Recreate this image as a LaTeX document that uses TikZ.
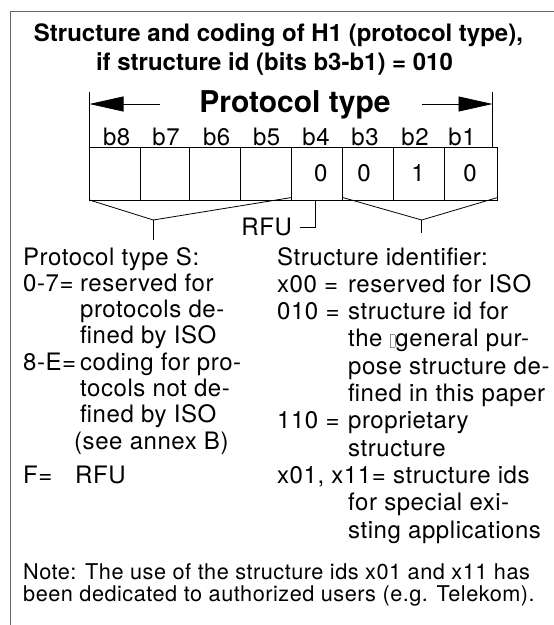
\documentclass[tikz,border=0pt]{standalone}
\usepackage{fontspec}
\setmainfont{TeX Gyre Heros}[LetterSpace=2.3]
\newfontfamily\titlefont{TeX Gyre Heros}
\usetikzlibrary{arrows.meta}
\newcommand{\missingglyph}{{\color{black!45}\setlength{\fboxsep}{0pt}\setlength{\fboxrule}{0.6pt}\fbox{\rule{0pt}{12pt}\rule{4.5pt}{0pt}}}}
\begin{document}
\begin{tikzpicture}[x=1pt,y=-1pt,
  body/.style={inner sep=0pt, font=\fontsize{24}{26}\selectfont},
  txt/.style={body, anchor=base west},
  ctxt/.style={body, anchor=base},
  notetxt/.style={inner sep=0pt, anchor=base west, font=\fontsize{21.7}{23}\selectfont},
  ttl/.style={inner sep=0pt, anchor=base, font=\titlefont\bfseries\fontsize{24}{26}\selectfont},
  big/.style={inner sep=0pt, anchor=base, font=\titlefont\bfseries\fontsize{30}{32}\selectfont},
  ln/.style={line width=0.8pt, black},
  frameline/.style={line width=1pt, black!60},
  arr/.style={ln, -{Triangle[length=34pt,width=15pt]}}]
\useasboundingbox (0,0) rectangle (554,625);

% frame
\coordinate (ftl) at (10,11);
\coordinate (ftr) at (554,11);
\coordinate (fbl) at (10,625);
\draw[frameline] (fbl) -- (ftl) -- (ftr);

% title
\node[ttl] (t1) at (278.5,41.5) {Structure and coding of H1 (protocol type),};
\node[ttl] (t2) at (274.5,70) {if structure id (bits b3-b1) = 010};

% protocol type with arrows
\node[big] (pt) at (295,112) {Protocol type};
\coordinate (lt) at (89.5,92);
\coordinate (lb) at (89.5,147);
\coordinate (rt) at (492.5,92);
\coordinate (rb) at (492.5,147);
\draw[ln] (lt) -- (lb);
\draw[ln] (rt) -- (rb);
\coordinate (la0) at (160,104);
\coordinate (la1) at (89.5,104);
\coordinate (ra0) at (422,104);
\coordinate (ra1) at (492.5,104);
\draw[arr] (la0) -- (la1);
\draw[arr] (ra0) -- (ra1);

% bit labels
\node[ctxt] (b8) at (116.7,145) {b8};
\node[ctxt] (b7) at (166,145) {b7};
\node[ctxt] (b6) at (216.7,145) {b6};
\node[ctxt] (b5) at (266.7,145) {b5};
\node[ctxt] (b4) at (316,145) {b4};
\node[ctxt] (b3) at (365,145) {b3};
\node[ctxt] (b2) at (415,145) {b2};
\node[ctxt] (b1) at (462,145) {b1};

% register box
\coordinate (boxtl) at (89.5,147);
\coordinate (boxbr) at (497.7,200);
\draw[ln] (boxtl) rectangle (boxbr);
\foreach \x [count=\i] in {140.7,189,240,291.7,342.7,393.3,444}{
  \coordinate (dt\i) at (\x,147);
  \coordinate (db\i) at (\x,200);
  \draw[ln] (dt\i) -- (db\i);
}
\node[ctxt] (v4) at (320.7,181) {0};
\node[ctxt] (v3) at (364,181) {0};
\node[ctxt] (v2) at (418,181) {1};
\node[ctxt] (v1) at (470,181) {0};

% left brace
\coordinate (lb0) at (89.5,200);
\coordinate (lbm) at (153.3,220);
\coordinate (lb1) at (291.7,197.5);
\coordinate (lbs) at (153.3,240);
\draw[ln] (lb0) -- (lbm) -- (lb1);
\draw[ln] (lbm) -- (lbs);

% right brace
\coordinate (rb0) at (342.7,197.5);
\coordinate (rbm) at (421.7,220);
\coordinate (rb1) at (497.7,197.5);
\coordinate (rbs) at (421.7,233);
\draw[ln] (rb0) -- (rbm) -- (rb1);
\draw[ln] (rbm) -- (rbs);

% RFU
\node[ctxt] (rfu) at (266.7,235) {RFU};
\coordinate (rf0) at (315,200);
\coordinate (rf1) at (315,227);
\coordinate (rf2) at (300,227);
\draw[ln] (rf0) -- (rf1) -- (rf2);

% left column (row pitch 26.3)
\node[txt] (l1) at (23,265) {Protocol type S:};
\node[txt] (l2a) at (23,291.3) {0-7=};
\node[txt] (l2b) at (80,291.3) {reserved for};
\node[txt] (l3) at (80,317.6) {protocols de-};
\node[txt] (l4) at (80,343.9) {fined by ISO};
\node[txt] (l5a) at (23,370.2) {8-E=};
\node[txt] (l5b) at (80,370.2) {coding for pro-};
\node[txt] (l6) at (80,396.5) {tocols not de-};
\node[txt] (l7) at (80,422.8) {fined by ISO};
\node[txt] (l8) at (74,449.1) {(see annex B)};
\node[txt] (l9a) at (23,483.4) {F=};
\node[txt] (l9b) at (75,483.4) {RFU};

% right column (row pitch 27.3)
\node[txt] (r1) at (277,265) {Structure identifier:};
\node[txt] (r2a) at (277,292.3) {x00 =};
\node[txt] (r2b) at (348,292.3) {reserved for ISO};
\node[txt] (r3a) at (277,319.6) {010 =};
\node[txt] (r3b) at (348,319.6) {structure id for};
\node[txt] (r4) at (348,346.9) {the \missingglyph general pur-};
\node[txt] (r5) at (348,374.2) {pose structure de-};
\node[txt] (r6) at (348,401.5) {fined in this paper};
\node[txt] (r7a) at (277,428.8) {110 =};
\node[txt] (r7b) at (348,428.8) {proprietary};
\node[txt] (r8) at (348,456.1) {structure};
\node[txt] (r9a) at (277,483.4) {x01, x11=};
\node[txt] (r9b) at (393,483.4) {structure ids};
\node[txt] (r10) at (348,510.7) {for special exi-};
\node[txt] (r11) at (348,538) {sting applications};

% note
\node[notetxt] (n1) at (23,579) {Note: The use of the structure ids x01 and x11 has};
\node[notetxt] (n2) at (23,601) {been dedicated to authorized users (e.g. Telekom).};
\end{tikzpicture}
\end{document}
